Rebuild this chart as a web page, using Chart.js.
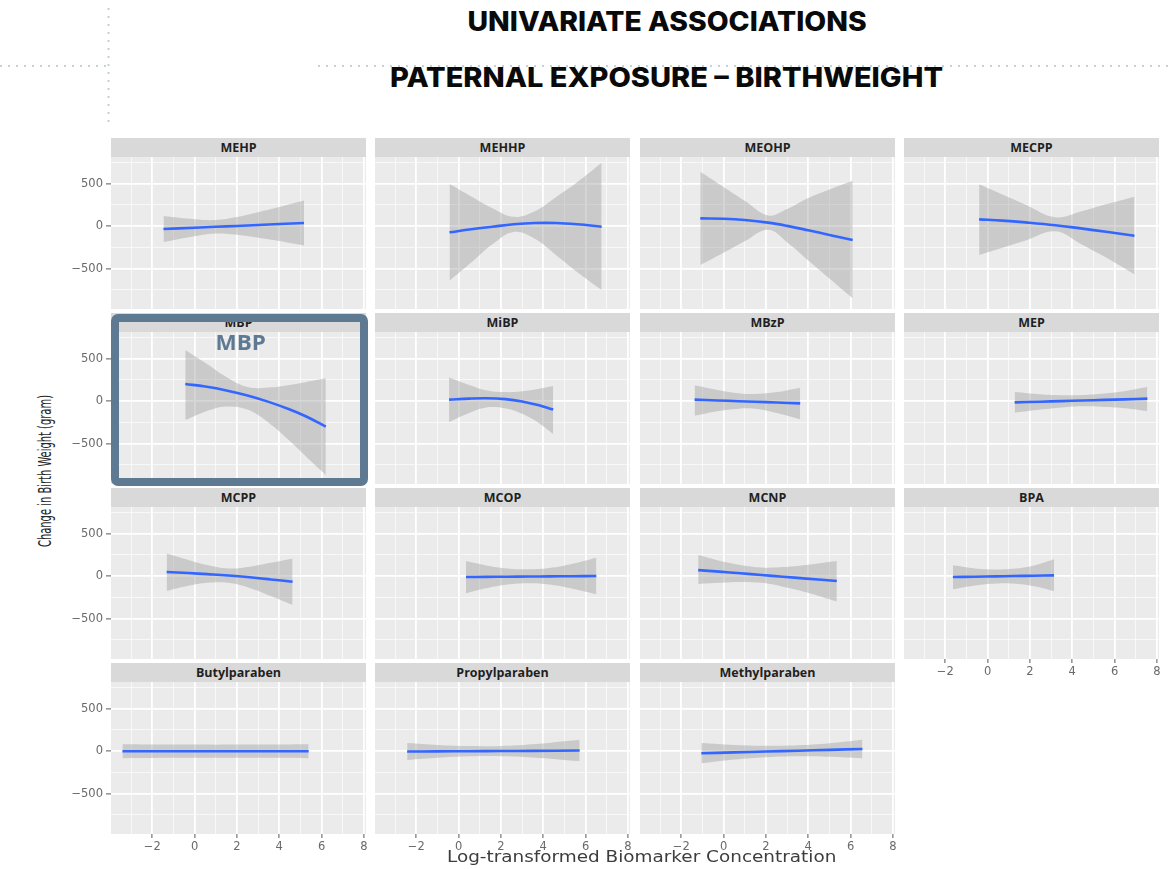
<!DOCTYPE html>
<html>
<head>
<meta charset="utf-8">
<title>Univariate associations – paternal exposure and birthweight</title>
<script src="https://cdn.jsdelivr.net/npm/chart.js@4.4.1/dist/chart.umd.min.js"></script>
<style>
  html, body { margin: 0; padding: 0; background: #ffffff; }
  #page { position: relative; width: 1169px; height: 869px; overflow: hidden; background: #ffffff; }
  .txt { position: absolute; white-space: nowrap; line-height: normal; }
  .title { font-family: Inter, 'DejaVu Sans', sans-serif; font-weight: 800; font-size: 27px; color: #0a0a0a; }
  .strip { position: absolute; height: 19px; background: #D9D9D9; color: #1f1f1f;
           font: 700 12.5px 'Open Sans', 'DejaVu Sans', sans-serif; display: flex; align-items: center; justify-content: center; }
  canvas { position: absolute; }
  #highlight { position: absolute; box-sizing: border-box; border: 8.5px solid #5E7A93; border-radius: 7px; z-index: 5; }
  #highlightLabel { font-family: 'Open Sans', 'DejaVu Sans', sans-serif; font-weight: 700; font-size: 22px; color: #5E7A93; z-index: 6; }
</style>
</head>
<body>
<div id="page">
  <svg width="1169" height="140" style="position:absolute;left:0;top:0">
    <g stroke="#C4D4D4" stroke-width="2" stroke-dasharray="2 6" fill="none">
      <line x1="108.5" y1="8" x2="108.5" y2="126"/>
      <line x1="0" y1="66" x2="108" y2="66"/>
      <line x1="318" y1="66" x2="1169" y2="66"/>
    </g>
  </svg>
</div>
<script>
// ---- facet labels (reading order, 4 per row) ----
const facetNames = ['MEHP', 'MEHHP', 'MEOHP', 'MECPP',
                    'MBP', 'MiBP', 'MBzP', 'MEP',
                    'MCPP', 'MCOP', 'MCNP', 'BPA',
                    'Butylparaben', 'Propylparaben', 'Methylparaben'];

// ---- axis ticks ----
const xTickLabels = [-2, 0, 2, 4, 6, 8];
const yTickLabels = [-500, 0, 500];
const xGridValues = [-3, -2, -1, 0, 1, 2, 3, 4, 5, 6, 7, 8];
const yGridValues = [-750, -500, -250, 0, 250, 500, 750];
const xRange = [-3.95, 8.1];
const yRange = [-976, 812];

// ---- fitted change in birth weight (g) with confidence band, per biomarker ----
const mehpX   = [-1.47, 0, 1, 2, 3, 4, 5.17];
const mehpFit = [-35, -20, -9, 1, 12, 23, 35];
const mehpHi  = [118, 80, 71, 106, 162, 223, 300];
const mehpLo  = [-188, -120, -89, -104, -138, -177, -230];

const mehhpX   = [-0.43, 0.6, 1.6, 2.6, 3.6, 4.6, 5.6, 6.76];
const mehhpFit = [-74, -38, -8, 20, 35, 35, 20, -8];
const mehhpHi  = [494, 348, 210, 108, 175, 340, 515, 745];
const mehhpLo  = [-643, -430, -215, -70, -150, -340, -540, -753];

const meohpX   = [-1.1, 0, 1, 2.1, 3, 4, 5, 6.1];
const meohpFit = [90, 85, 70, 40, 2, -50, -105, -165];
const meohpHi  = [639, 460, 297, 125, 200, 330, 430, 533];
const meohpLo  = [-459, -315, -180, -45, -190, -405, -617, -851];

const mecppX   = [-0.4, 0.7, 1.8, 3.2, 4.4, 5.6, 6.94];
const mecppFit = [78, 64, 43, 10, -28, -68, -114];
const mecppHi  = [490, 370, 250, 102, 170, 255, 345];
const mecppLo  = [-341, -255, -170, -62, -210, -370, -568];

const mbpX   = [-0.44, 0.5, 1.5, 2.5, 3.5, 4.5, 5.3, 6.2];
const mbpFit = [200, 170, 125, 65, -10, -100, -185, -302];
const mbpHi  = [600, 450, 283, 165, 160, 190, 225, 267];
const mbpLo  = [-223, -125, -65, -100, -255, -470, -660, -870];

const mibpX   = [-0.45, 0.5, 1.3, 2.2, 3.0, 3.8, 4.47];
const mibpFit = [16, 28, 32, 22, -5, -50, -101];
const mibpHi  = [278, 190, 127, 105, 115, 145, 177];
const mibpLo  = [-246, -140, -75, -85, -150, -260, -387];

const mbzpX   = [-1.37, -0.3, 0.7, 1.5, 2.5, 3.62];
const mbzpFit = [16, 7, -2, -8, -17, -28];
const mbzpHi  = [185, 130, 92, 82, 105, 157];
const mbzpLo  = [-173, -120, -90, -92, -140, -214];

const mepX   = [1.28, 2.5, 3.5, 4.5, 5.5, 6.5, 7.55];
const mepFit = [-16, -8, -1, 6, 13, 20, 28];
const mepHi  = [106, 80, 68, 70, 88, 118, 165];
const mepLo  = [-138, -100, -75, -62, -70, -85, -118];

const mcppX   = [-1.32, -0.3, 0.6, 1.6, 2.6, 3.6, 4.63];
const mcppFit = [47, 35, 22, 6, -15, -40, -67];
const mcppHi  = [266, 190, 130, 90, 110, 155, 207];
const mcppLo  = [-176, -115, -80, -80, -140, -235, -340];

const mcopX   = [0.35, 1.3, 2.3, 3.3, 4.3, 5.4, 6.51];
const mcopFit = [-12, -10, -8, -6, -4, -2, 0];
const mcopHi  = [176, 125, 90, 80, 95, 145, 215];
const mcopLo  = [-203, -145, -100, -85, -100, -150, -215];

const mcnpX   = [-1.2, -0.2, 0.8, 1.8, 2.8, 3.9, 5.35];
const mcnpFit = [70, 52, 32, 12, -8, -30, -59];
const mcnpHi  = [247, 180, 130, 100, 105, 130, 176];
const mcnpLo  = [-94, -80, -70, -80, -125, -190, -300];

const bpaX   = [-1.64, -0.6, 0.4, 1.2, 2.2, 3.14];
const bpaFit = [-12, -8, -4, 0, 4, 8];
const bpaHi  = [126, 90, 78, 85, 125, 197];
const bpaLo  = [-157, -112, -87, -88, -120, -177];

const butylX   = [-3.41, -1, 1, 3, 5.39];
const butylFit = [-3, -3, -2, -2, -2];
const butylHi  = [80, 76, 75, 76, 80];
const butylLo  = [-85, -80, -78, -80, -84];

const propylX   = [-2.43, -1, 0.5, 2, 3.5, 5.72];
const propylFit = [-6, -4, -2, 0, 2, 6];
const propylHi  = [94, 70, 58, 60, 80, 133];
const propylLo  = [-106, -80, -62, -60, -75, -118];

const methylX   = [-1.05, 0.5, 2, 3.5, 5, 6.56];
const methylFit = [-27, -16, -6, 4, 14, 24];
const methylHi  = [94, 72, 62, 68, 92, 133];
const methylLo  = [-145, -100, -72, -62, -68, -86];

const facetSeries = [
  [mehpX, mehpFit, mehpHi, mehpLo], [mehhpX, mehhpFit, mehhpHi, mehhpLo],
  [meohpX, meohpFit, meohpHi, meohpLo], [mecppX, mecppFit, mecppHi, mecppLo],
  [mbpX, mbpFit, mbpHi, mbpLo], [mibpX, mibpFit, mibpHi, mibpLo],
  [mbzpX, mbzpFit, mbzpHi, mbzpLo], [mepX, mepFit, mepHi, mepLo],
  [mcppX, mcppFit, mcppHi, mcppLo], [mcopX, mcopFit, mcopHi, mcopLo],
  [mcnpX, mcnpFit, mcnpHi, mcnpLo], [bpaX, bpaFit, bpaHi, bpaLo],
  [butylX, butylFit, butylHi, butylLo], [propylX, propylFit, propylHi, propylLo],
  [methylX, methylFit, methylHi, methylLo]
];

// ---- facet grid geometry ----
const colLeft = [111, 375, 640, 904];
const stripTop = [138, 313, 488, 663];
const STRIP_H = 19, PW = 255, PH = 152;
const ML = 50, MR = 14, MT = 14, MB = 26;

const page = document.getElementById('page');

function minusFmt(v) { return v < 0 ? '\u2212' + Math.abs(v) : String(v); }

const panelBg = {
  id: 'panelBg',
  beforeDraw(c) {
    const a = c.chartArea, ctx = c.ctx;
    ctx.save();
    ctx.fillStyle = '#EBEBEB';
    ctx.fillRect(a.left, a.top, a.right - a.left, a.bottom - a.top);
    ctx.restore();
  }
};

function pts(xs, ys) { return xs.map((x, i) => ({ x: x, y: ys[i] })); }

function makePanel(idx, col, row, showX, showY) {
  const [xs, fit, hi, lo] = facetSeries[idx];
  const plotLeft = colLeft[col], plotTop = stripTop[row] + STRIP_H;

  const strip = document.createElement('div');
  strip.className = 'strip';
  strip.style.left = plotLeft + 'px';
  strip.style.top = stripTop[row] + 'px';
  strip.style.width = PW + 'px';
  strip.textContent = facetNames[idx];
  page.appendChild(strip);

  const cv = document.createElement('canvas');
  cv.width = ML + PW + MR;
  cv.height = MT + PH + MB;
  cv.style.left = (plotLeft - ML) + 'px';
  cv.style.top = (plotTop - MT) + 'px';
  page.appendChild(cv);

  const majorX = v => v % 2 === 0;
  const majorY = v => v % 500 === 0;
  const band = 'rgba(153,153,153,0.4)';

  const chart = new Chart(cv, {
    type: 'line',
    data: {
      datasets: [
        // confidence band: upper edge filled down to the lower edge
        { data: pts(xs, hi), borderColor: 'transparent', borderWidth: 0, pointRadius: 0,
          fill: '+1', backgroundColor: band, tension: 0.4, order: 2 },
        { data: pts(xs, lo), borderColor: 'transparent', borderWidth: 0, pointRadius: 0,
          fill: false, tension: 0.4, order: 3 },
        // fitted curve, drawn on top
        { data: pts(xs, fit), borderColor: '#3366FF', borderWidth: 2.6, pointRadius: 0,
          fill: false, tension: 0.4, order: 0 }
      ]
    },
    options: {
      responsive: false,
      animation: false,
      devicePixelRatio: 1,
      events: [],
      layout: { padding: { top: MT, right: MR, left: 0, bottom: 0 } },
      plugins: { legend: { display: false }, tooltip: { enabled: false }, title: { display: false } },
      scales: {
        x: {
          type: 'linear', min: xRange[0], max: xRange[1],
          afterBuildTicks: s => { s.ticks = xGridValues.map(v => ({ value: v })); },
          afterFit: s => { s.height = MB; },
          border: { display: false },
          grid: {
            color: c => majorX(c.tick.value) ? '#FFFFFF' : 'rgba(255,255,255,0.7)',
            lineWidth: c => majorX(c.tick.value) ? 1.8 : 0.9,
            drawTicks: showX, tickLength: 4,
            tickColor: c => (xTickLabels.includes(c.tick.value)) ? '#5a5a5a' : 'rgba(0,0,0,0)',
            tickWidth: 1
          },
          ticks: {
            display: showX, autoSkip: false, maxRotation: 0, padding: 2,
            color: '#6a6a6a', font: { family: 'DejaVu Sans', size: 11.5 },
            callback: v => xTickLabels.includes(v) ? minusFmt(v) : ''
          }
        },
        y: {
          type: 'linear', min: yRange[0], max: yRange[1],
          afterBuildTicks: s => { s.ticks = yGridValues.map(v => ({ value: v })); },
          afterFit: s => { s.width = ML; },
          border: { display: false },
          grid: {
            color: c => majorY(c.tick.value) ? '#FFFFFF' : 'rgba(255,255,255,0.7)',
            lineWidth: c => majorY(c.tick.value) ? 1.8 : 0.9,
            drawTicks: showY, tickLength: 5,
            tickColor: c => (yTickLabels.includes(c.tick.value)) ? '#5a5a5a' : 'rgba(0,0,0,0)',
            tickWidth: 1
          },
          ticks: {
            display: showY, autoSkip: false, padding: 3,
            color: '#6a6a6a', font: { family: 'DejaVu Sans', size: 11.5 },
            callback: v => yTickLabels.includes(v) ? minusFmt(v) : ''
          }
        }
      }
    },
    plugins: [panelBg]
  });

  // keep the plotting area exactly on its facet cell
  const a = chart.chartArea;
  cv.style.left = (plotLeft - a.left) + 'px';
  cv.style.top = (plotTop - a.top) + 'px';
}

for (let i = 0; i < facetNames.length; i++) {
  const row = Math.floor(i / 4), col = i % 4;
  const showY = col === 0;
  const showX = row === 3 || (row === 2 && col === 3);
  makePanel(i, col, row, showX, showY);
}

// ---- text placed by centre and width ----
function placeText(el, cx, cy, width, rotate) {
  page.appendChild(el);
  const w = el.offsetWidth, h = el.offsetHeight;
  el.style.left = (cx - w / 2) + 'px';
  el.style.top = (cy - h / 2) + 'px';
  el.style.transformOrigin = '50% 50%';
  el.style.transform = (rotate ? 'rotate(-90deg) ' : '') + 'scaleX(' + (width / w) + ')';
}
function makeText(cls, text, style) {
  const el = document.createElement('div');
  el.className = 'txt ' + cls;
  el.textContent = text;
  Object.assign(el.style, style || {});
  return el;
}

placeText(makeText('title', 'UNIVARIATE ASSOCIATIONS'), 666.5, 21.5, 399);
placeText(makeText('title', 'PATERNAL EXPOSURE \u2013 BIRTHWEIGHT'), 666.5, 77, 553);

placeText(makeText('', 'Log-transformed Biomarker Concentration',
  { fontFamily: "'DejaVu Sans', sans-serif", fontSize: '15px', color: '#3d3d3d' }), 641.5, 857, 389);

placeText(makeText('', 'Change in Birth Weight (gram)',
  { fontFamily: "'Liberation Sans Narrow', 'DejaVu Sans Condensed', sans-serif", fontSize: '17px', color: '#262626' }),
  45, 471, 152, true);

// ---- highlighted MBP facet ----
const box = document.createElement('div');
box.id = 'highlight';
Object.assign(box.style, { left: '111px', top: '314px', width: '257px', height: '172px' });
page.appendChild(box);
const boxLabel = makeText('', 'MBP');
boxLabel.id = 'highlightLabel';
placeText(boxLabel, 240, 341, 50);
</script>
</body>
</html>
